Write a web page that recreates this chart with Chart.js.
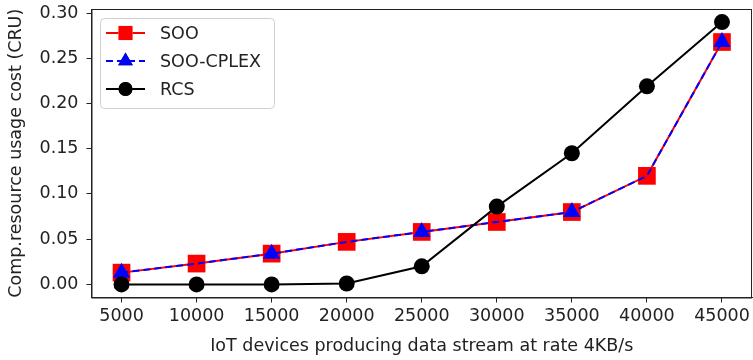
<!DOCTYPE html>
<html>
<head>
<meta charset="utf-8">
<script src="https://cdn.jsdelivr.net/npm/chart.js@4"></script>
<style>
  html, body { margin: 0; padding: 0; background: #fff; }
  #wrap { width: 753px; height: 360px; }
</style>
</head>
<body>
<div id="wrap"><canvas id="costChart" width="753" height="360"></canvas></div>
<script>
// values
const devices = [5000, 10000, 15000, 20000, 25000, 30000, 35000, 40000, 45000];
const soo      = [0.013, 0.023, 0.034, 0.047, 0.058, 0.069, 0.080, 0.120, 0.268];
const sooCplex = [0.013, 0.023, 0.034, 0.047, 0.058, 0.069, 0.080, 0.120, 0.268];
const rcs      = [0.000, 0.000, 0.000, 0.001, 0.020, 0.086, 0.145, 0.219, 0.290];
const yTicks = [0, 0.05, 0.10, 0.15, 0.20, 0.25, 0.30];

const FONT = 'DejaVu Sans';
const FSIZE = 17.5;
const toPoints = vals => vals.map((v, i) => ({ x: devices[i], y: v }));

// matplotlib-style legend inside the axes + full frame
const frameAndLegend = {
    id: 'frameAndLegend',
    afterDatasetsDraw(chart) {
        const { ctx, chartArea: a } = chart;
        ctx.save();
        ctx.strokeStyle = '#222';
        ctx.lineWidth = 1;
        ctx.strokeRect(a.left + 0.5, a.top + 0.5, a.right - a.left - 1, a.bottom - a.top);

        // legend box
        const bx = 100.5, by = 18.5, bw = 174, bh = 90, r = 4;
        ctx.fillStyle = 'rgba(255,255,255,0.8)';
        ctx.strokeStyle = '#d0d0d0';
        ctx.beginPath();
        ctx.roundRect(bx, by, bw, bh, r);
        ctx.fill();
        ctx.stroke();

        const rows = [33, 61, 89];
        chart.data.datasets.forEach((ds, i) => {
            const y = rows[i];
            ctx.strokeStyle = ds.borderColor;
            ctx.lineWidth = ds.borderWidth;
            ctx.setLineDash(ds.borderDash || []);
            ctx.beginPath();
            ctx.moveTo(106, y);
            ctx.lineTo(145, y);
            ctx.stroke();
            ctx.setLineDash([]);
            Chart.helpers.drawPoint(ctx, {
                pointStyle: ds.pointStyle,
                radius: ds.legendRadius,
                borderWidth: 0
            }, 125.5, y);
            ctx.fillStyle = ds.pointBackgroundColor;
            ctx.fill();
            ctx.fillStyle = '#222';
            ctx.font = FSIZE + 'px "' + FONT + '"';
            ctx.textBaseline = 'middle';
            ctx.fillText(ds.label, 160, y + 1);
        });
        ctx.restore();
    }
};

new Chart(document.getElementById('costChart'), {
    type: 'line',
    data: {
        datasets: [
            {
                label: 'SOO',
                data: toPoints(soo),
                borderColor: 'red',
                borderWidth: 2,
                pointStyle: 'rect',
                pointRadius: 12.5,
                legendRadius: 10,
                pointBackgroundColor: 'red',
                pointBorderWidth: 0,
                clip: false,
                order: 3
            },
            {
                label: 'SOO-CPLEX',
                data: toPoints(sooCplex),
                borderColor: 'blue',
                borderWidth: 2,
                borderDash: [7, 4],
                pointStyle: 'triangle',
                pointRadius: ctx => (ctx.dataIndex % 2 === 0 ? 10 : 0),
                legendRadius: 8.5,
                pointBackgroundColor: 'blue',
                pointBorderWidth: 0,
                clip: false,
                order: 2
            },
            {
                label: 'RCS',
                data: toPoints(rcs),
                borderColor: 'black',
                borderWidth: 2,
                pointStyle: 'circle',
                pointRadius: 8,
                legendRadius: 7,
                pointBackgroundColor: 'black',
                pointBorderWidth: 0,
                clip: false,
                order: 1
            }
        ]
    },
    options: {
        responsive: false,
        animation: false,
        layout: { padding: 0, autoPadding: false },
        plugins: {
            legend: { display: false },
            tooltip: { enabled: false }
        },
        elements: { line: { tension: 0 } },
        scales: {
            x: {
                type: 'linear',
                min: 3000,
                max: 47000,
                afterBuildTicks: s => { s.ticks = devices.map(v => ({ value: v })); },
                afterFit: s => { s.height = 62.5; s.paddingLeft = 0; s.paddingRight = 1; },
                border: { color: '#222', width: 1 },
                grid: { drawOnChartArea: false, tickLength: 5, color: '#222' },
                ticks: {
                    autoSkip: false,
                    maxRotation: 0,
                    padding: 3,
                    color: '#222',
                    font: { family: FONT, size: FSIZE },
                    callback: v => String(v)
                },
                title: {
                    display: true,
                    text: 'IoT devices producing data stream at rate 4KB/s',
                    color: '#222',
                    font: { family: FONT, size: FSIZE },
                    padding: { top: 2, bottom: 3.5 }
                }
            },
            y: {
                min: -0.0145,
                max: 0.3045,
                afterBuildTicks: s => { s.ticks = yTicks.map(v => ({ value: v })); },
                afterFit: s => { s.width = 91.5; s.paddingTop = 9; s.paddingBottom = 0; },
                border: { color: '#222', width: 1 },
                grid: { drawOnChartArea: false, tickLength: 5, color: '#222' },
                ticks: {
                    padding: 8,
                    color: '#222',
                    font: { family: FONT, size: FSIZE },
                    callback: v => v.toFixed(2)
                },
                title: {
                    display: true,
                    text: 'Comp.resource usage cost (CRU)',
                    color: '#222',
                    font: { family: FONT, size: FSIZE },
                    padding: { top: 6, bottom: 4 }
                }
            }
        }
    },
    plugins: [frameAndLegend]
});
</script>
</body>
</html>
